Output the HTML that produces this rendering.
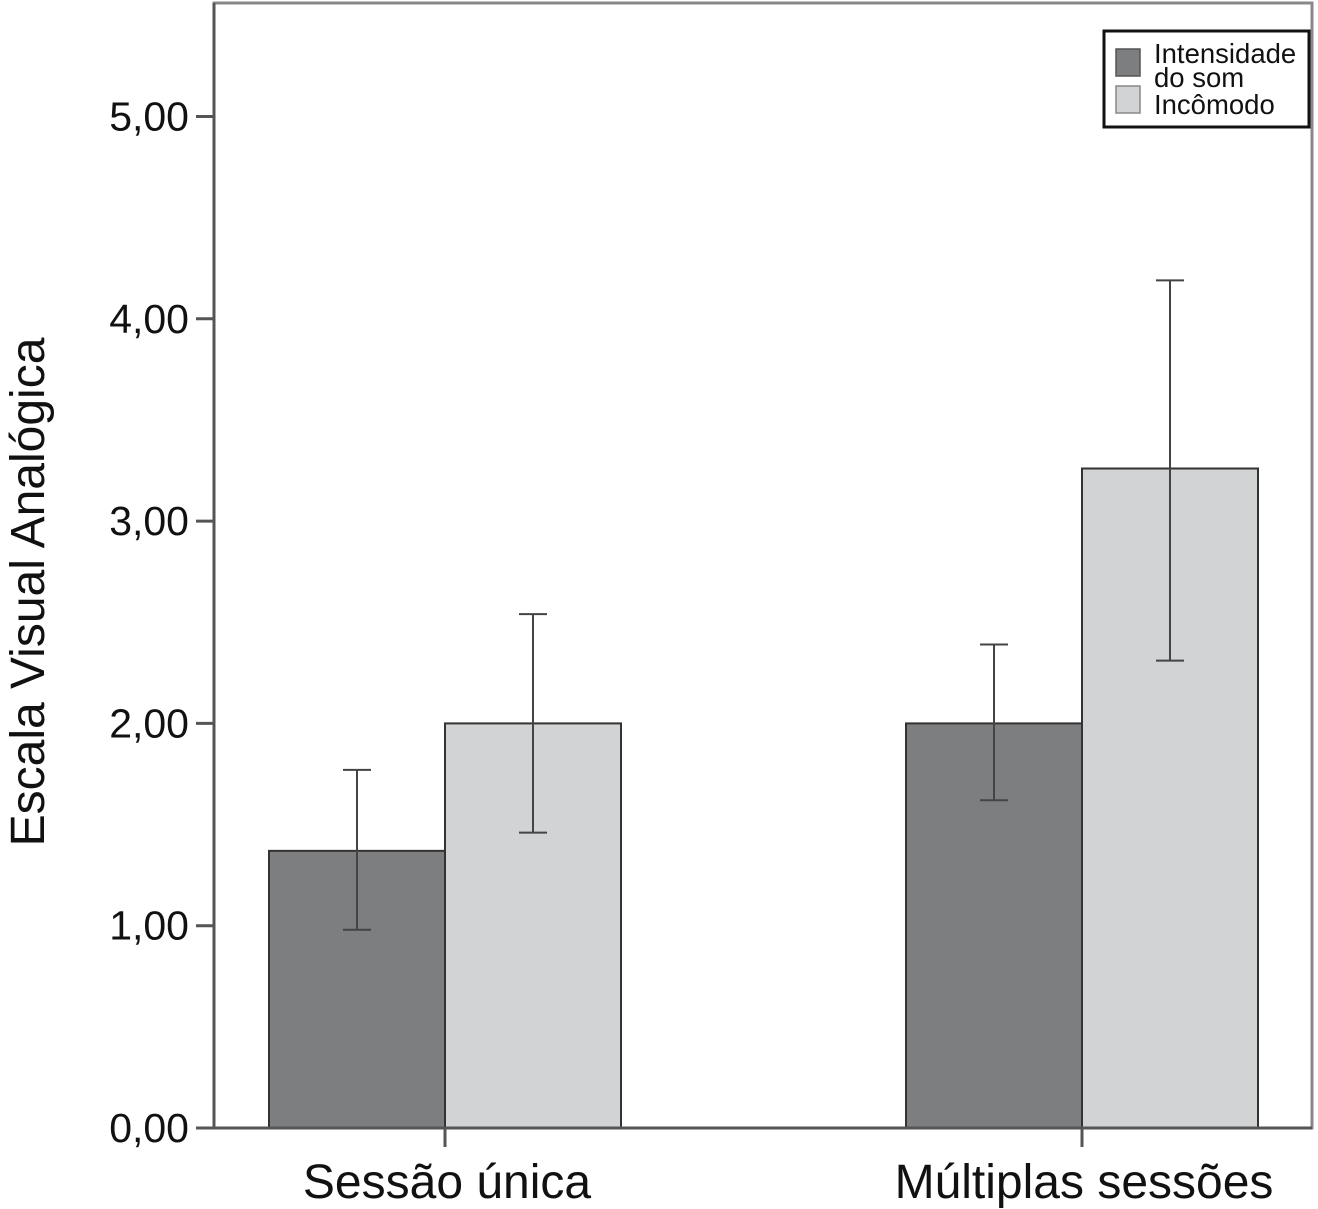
<!DOCTYPE html>
<html><head><meta charset="utf-8"><style>
html,body{margin:0;padding:0;background:#fff;}
svg{display:block;font-family:"Liberation Sans",sans-serif;}
</style></head><body>
<svg id="chart" width="1318" height="1209" viewBox="0 0 1318 1209">
<rect x="214" y="3" width="1098" height="1125" fill="#fff" stroke="#888" stroke-width="3"/>
<g id="bars"></g><g id="errs"></g><g id="axes"></g>
<text x="44" y="592" font-size="48" fill="#111" text-anchor="middle" transform="rotate(-90 44 592)">Escala Visual Analógica</text>
<g>
<rect x="1104" y="31" width="205" height="96" fill="#fff" stroke="#111" stroke-width="3"/>
<rect x="1116" y="49" width="24" height="27" fill="#7d7e80" stroke="#555" stroke-width="1.5"/>
<text x="1154" y="63" font-size="27.5" fill="#111">Intensidade</text>
<text x="1154" y="87" font-size="27.5" fill="#111">do som</text>
<rect x="1116" y="86" width="24" height="27" fill="#d2d3d5" stroke="#888" stroke-width="1.5"/>
<text x="1154" y="114" font-size="27.5" fill="#111">Incômodo</text>
</g>
</svg>
<script>
const categories = ["Sessão única", "Múltiplas sessões"];
const seriesNames = ["Intensidade do som", "Incômodo"];
const intensidade = [1.37, 2.0];
const incomodo = [2.0, 3.26];
const intensidadeHi = [1.77, 2.39];
const intensidadeLo = [0.98, 1.62];
const incomodoHi = [2.54, 4.19];
const incomodoLo = [1.46, 2.31];
const yTicks = [0, 1, 2, 3, 4, 5];
const yTickLabels = ["0,00", "1,00", "2,00", "3,00", "4,00", "5,00"];

const NS = "http://www.w3.org/2000/svg";
const y = v => 1128 - v * 202.3;
const catX = i => 445 + i * 637;
const barW = 176;
function mk(tag, attrs, parent){const e=document.createElementNS(NS,tag);for(const k in attrs)e.setAttribute(k,attrs[k]);document.getElementById(parent).appendChild(e);return e;}
const series = [
  {vals:intensidade, hi:intensidadeHi, lo:intensidadeLo, fill:"#7d7e80", off:-barW, name:"intensidade"},
  {vals:incomodo, hi:incomodoHi, lo:incomodoLo, fill:"#d2d3d5", off:0, name:"incomodo"}
];
series.forEach(s=>{
  categories.forEach((c,i)=>{
    const x0 = catX(i)+s.off;
    const r = mk("rect",{x:x0,y:y(s.vals[i]),width:barW,height:y(0)-y(s.vals[i]),fill:s.fill,stroke:"#333","stroke-width":2},"bars");
    
    
    const cx = x0+barW/2;
    const g = mk("path",{d:`M${cx},${y(s.hi[i])}V${y(s.lo[i])}M${cx-14},${y(s.hi[i])}H${cx+14}M${cx-14},${y(s.lo[i])}H${cx+14}`,stroke:"#444","stroke-width":2,fill:"none"},"errs");
    
    
  });
});
const ax = mk("path",{d:"M214,3V1128H1312",stroke:"#555","stroke-width":3,fill:"none"},"axes");


yTicks.forEach((v,i)=>{
  const t = mk("line",{x1:196,x2:214,y1:y(v),y2:y(v),stroke:"#555","stroke-width":3},"axes");
  
  
  const l = mk("text",{x:189,y:y(v)+14,"font-size":41,"text-anchor":"end",fill:"#111"},"axes");
  l.textContent = yTickLabels[i];
  
  
});
categories.forEach((c,i)=>{
  const t = mk("line",{x1:catX(i),x2:catX(i),y1:1128,y2:1147,stroke:"#555","stroke-width":3},"axes");
  
  
  const l = mk("text",{x:catX(i)+2,y:1198,"font-size":48,"text-anchor":"middle",fill:"#111"},"axes");
  l.textContent = c;
  
  
});
</script>
</body></html>
